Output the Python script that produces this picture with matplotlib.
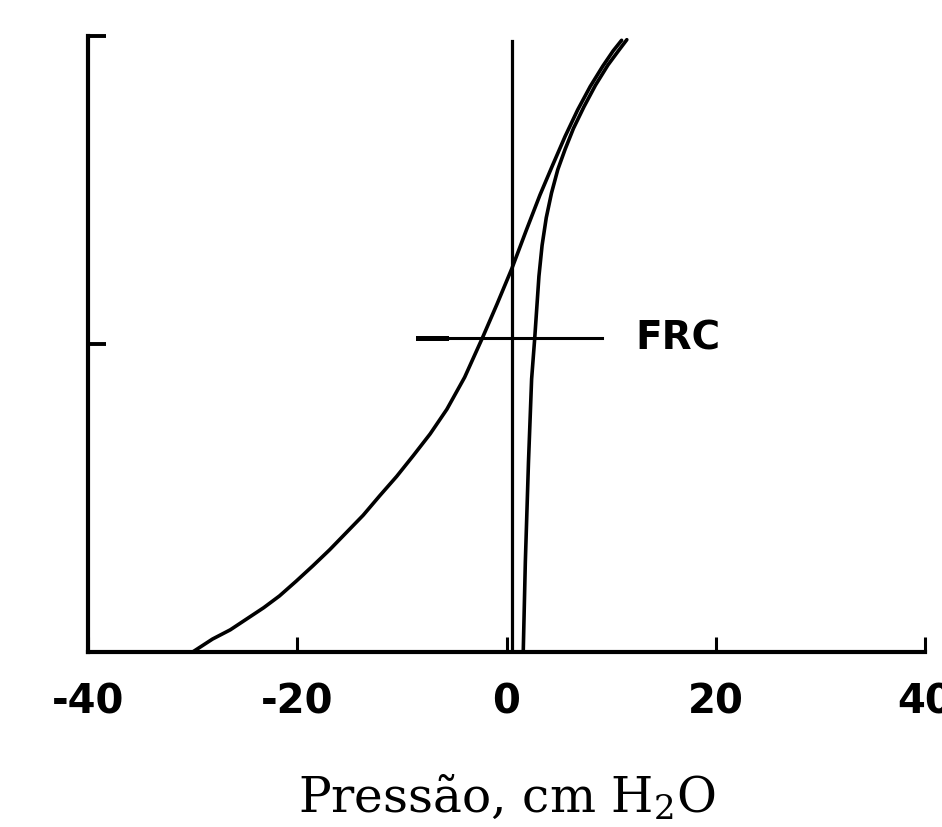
import matplotlib
matplotlib.use("Agg")
import matplotlib.pyplot as plt

# Pressure-volume curves (x: pressure cm H2O, y: % volume)
# left limb
press_a = [-30.0, -28.1, -26.4, -24.8, -23.2, -21.7, -20.1, -18.5, -16.9, -15.3,
           -13.7, -12.1, -10.5, -8.9, -7.3, -5.7, -4.0, -2.3, -0.9, 0.5,
           1.9, 3.2, 4.4, 5.6, 6.8, 8.0, 9.2, 10.2, 11.0]
vol_a = [0.0, 2.1, 3.6, 5.4, 7.2, 9.1, 11.5, 14.0, 16.6, 19.4,
         22.2, 25.4, 28.5, 31.9, 35.4, 39.4, 44.6, 51.0, 56.5, 62.2,
         68.5, 74.2, 79.0, 83.7, 88.0, 91.8, 95.1, 97.6, 99.3]
# steep right limb
press_b = [1.6, 1.8, 2.1, 2.4, 2.7, 2.9, 3.1, 3.4, 3.8, 4.3, 4.9, 5.6, 6.4,
           7.4, 8.5, 9.7, 10.7, 11.5]
vol_b = [0.0, 14.6, 30.8, 44.3, 51.0, 56.0, 61.0, 66.0, 70.5, 74.5, 78.3, 81.6, 85.0,
         88.5, 92.0, 95.3, 97.6, 99.4]

# reference lines
zero_x = [0.5, 0.5]
zero_y = [0.0, 99.2]
frc_x = [-8.5, 9.1]
frc_y = [51.0, 51.0]
frc_label = "FRC"

xticks = [-40, -20, 0, 20, 40]
xtick_labels = ["-40", "-20", "0", "20", "40"]
yticks = [50, 100]

fig = plt.figure(figsize=(9.42, 8.28), dpi=100)
ax = fig.add_axes([88 / 942, 175 / 828, 837 / 942, 616 / 828])

ax.plot(press_a, vol_a, color="black", linewidth=2.6, solid_capstyle="round",
        solid_joinstyle="round")
ax.plot(press_b, vol_b, color="black", linewidth=2.6, solid_capstyle="round",
        solid_joinstyle="round")
ax.plot(zero_x, zero_y, color="black", linewidth=2.3)
ax.plot(frc_x, frc_y, color="black", linewidth=2.2)
ax.plot([frc_x[0], frc_x[0] + 2.7], frc_y, color="black", linewidth=3.6)

ax.text(12.3, frc_y[0], frc_label, ha="left", va="center", fontsize=28,
        fontweight="bold", family="DejaVu Sans")

ax.set_xlim(-40, 40)
ax.set_ylim(0, 100)
ax.set_xticks(xticks)
ax.set_xticklabels(xtick_labels, fontsize=29, fontweight="bold", family="DejaVu Sans")
ax.set_yticks(yticks)
ax.set_yticklabels([])
ax.tick_params(axis="x", direction="in", length=11, width=2.2, pad=21)
ax.tick_params(axis="y", direction="in", length=13, width=2.8)

for s in ["top", "right"]:
    ax.spines[s].set_visible(False)
for s in ["left", "bottom"]:
    ax.spines[s].set_linewidth(3.0)
    ax.spines[s].set_capstyle("projecting")

plt.rcParams["mathtext.fontset"] = "dejavuserif"
fig.text(507 / 942, 1 - 812 / 828, "Pressão, cm H$_2$O", ha="center", va="baseline",
         fontsize=35, family="DejaVu Serif")

fig.savefig("out.png", dpi=100)
